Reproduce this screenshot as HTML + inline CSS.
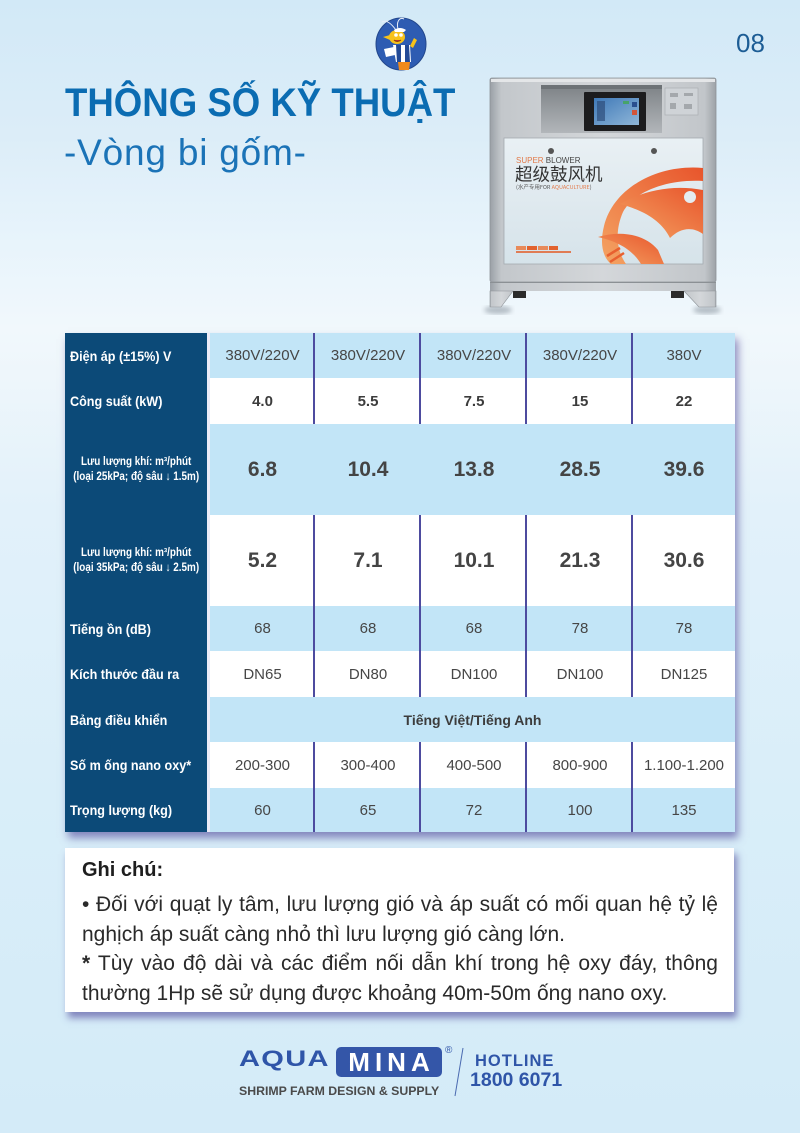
<!DOCTYPE html>
<html>
<head>
<meta charset="utf-8">
<style>
*{box-sizing:border-box}
body{margin:0;width:800px;height:1133px;position:relative;overflow:hidden;
background:linear-gradient(180deg,#d2e9f7 0%,#dcedf8 12%,#e6f3fb 20%,#f1f8fc 29%,#eef6fb 33%,#e2f1fa 45%,#d9eef9 70%,#d4ebf8 100%);
font-family:"Liberation Sans","Noto Sans CJK SC",sans-serif;}
.abs{position:absolute;white-space:nowrap}
.tbl{position:absolute;left:65px;top:333px;width:670px;height:499px;background:#ecebf7;box-shadow:3px 6px 8px rgba(60,50,140,.55)}
.dark{position:absolute;left:65px;top:333px;width:142px;height:499px;background:#0c4a78}
.row{position:absolute;left:210px;width:525px;display:flex;align-items:center;color:#464646;font-size:15px}
.c{flex:none;text-align:center}
.b{font-weight:bold;color:#3c3c3c}
.big{font-weight:bold;font-size:21px;color:#444}
.lr{position:absolute;left:70px;width:137px;display:flex;align-items:center;color:#fff;font-weight:bold;font-size:14px;white-space:nowrap}
.lr span{display:inline-block;transform:scaleX(.9);transform-origin:left center}
.lr2{position:absolute;left:65px;width:142px;display:flex;align-items:center;justify-content:center;color:#fff;font-weight:bold;font-size:11.5px;line-height:14.5px;text-align:center;white-space:nowrap}
.lr2 span{display:inline-block;transform:scaleX(.86);transform-origin:center}
.dv{position:absolute;width:2px;background:#4d4b9f;border-right:0}
.note{position:absolute;left:65px;top:848px;width:669px;height:164px;background:#fff;box-shadow:3px 6px 7px rgba(60,50,140,.55)}
.nl{position:absolute;left:82px;width:636px;font-size:21px;line-height:29.5px;color:#2a2a2a;white-space:nowrap}
.j{text-align:justify;text-align-last:justify;white-space:normal}
</style>
</head>
<body>

<svg class="abs" style="left:0;top:0" width="800" height="1133" viewBox="0 0 800 1133">
<defs>
<linearGradient id="gb" x1="0" x2="1" y1="0" y2="0">
<stop offset="0" stop-color="#9aa0a6"/><stop offset=".05" stop-color="#c3c7cb"/><stop offset=".5" stop-color="#d4d7da"/><stop offset=".95" stop-color="#c2c6ca"/><stop offset="1" stop-color="#9da2a7"/>
</linearGradient>
<linearGradient id="gp" x1="0" x2="0" y1="0" y2="1">
<stop offset="0" stop-color="#e9f0f4"/><stop offset="1" stop-color="#d6e3ea"/>
</linearGradient>
<linearGradient id="gr" x1="0" x2="0" y1="0" y2="1">
<stop offset="0" stop-color="#7d8286"/><stop offset="1" stop-color="#b2b6ba"/>
</linearGradient>
<linearGradient id="go" x1="1" x2="0" y1="0" y2="1">
<stop offset="0" stop-color="#e8552c"/><stop offset="1" stop-color="#f4a463"/>
</linearGradient>
<linearGradient id="gs" x1="0" x2="1" y1="0" y2="1">
<stop offset="0" stop-color="#3f79b8"/><stop offset="1" stop-color="#8fb6d8"/>
</linearGradient>
<filter id="bl"><feGaussianBlur stdDeviation="2.5"/></filter>
</defs>

<!-- logo -->
<ellipse cx="401" cy="44" rx="25" ry="26" fill="#2e5cb2" stroke="#23478c" stroke-width="1"/>
<path d="M396 30 C390 22 386 20 382 22 M398 29 C396 21 400 17 404 19" stroke="#e8eef8" stroke-width="1" fill="none"/>
<path d="M398 62 L410 62 L409 70 L399 70 Z" fill="#f08a1c"/>
<path d="M393 45 L410 45 L411 62 L396 62 Z" fill="#ffffff"/>
<path d="M396 45 L401 45 L401 62 L397 62 Z" fill="#234a96"/>
<path d="M405 45 L409 45 L410 62 L405 62 Z" fill="#234a96"/>
<ellipse cx="397" cy="37" rx="8" ry="7" fill="#f7c21a"/>
<path d="M390 35 L383 37 L390 40 Z" fill="#f7c21a"/>
<path d="M394 30 Q400 26 406 30 L404 32 L395 32 Z" fill="#ffffff"/>
<circle cx="396" cy="35" r="1.8" fill="#fff"/><circle cx="401" cy="35" r="1.8" fill="#fff"/>
<path d="M394 40 Q397 43 401 40" stroke="#8a3b12" stroke-width="1" fill="#c0392b"/>
<path d="M410 46 L414 38 L417 40 L413 48 Z" fill="#f7c21a"/>
<path d="M384 49 L394 47 L395 55 L386 57 Z" fill="#ffffff"/>

<!-- machine shadows -->
<ellipse cx="498" cy="310" rx="14" ry="4" fill="#6d7884" opacity=".45" filter="url(#bl)"/>
<ellipse cx="707" cy="310" rx="14" ry="4" fill="#6d7884" opacity=".45" filter="url(#bl)"/>
<!-- machine body -->
<rect x="490" y="78" width="226" height="204" fill="url(#gb)" stroke="#8d9297" stroke-width=".8" rx="2"/>
<rect x="491" y="79" width="224" height="3" fill="#e4e6e8"/>
<rect x="541" y="85" width="121" height="48" fill="url(#gr)"/>
<rect x="541" y="85" width="121" height="4" fill="#6d7276"/>
<rect x="584" y="92" width="62" height="39" fill="#1c1c1e" rx="1"/>
<rect x="594" y="98" width="45" height="27" fill="url(#gs)"/>
<rect x="597" y="101" width="8" height="20" fill="#2d4d7a" opacity=".7"/>
<rect x="623" y="101" width="6" height="3" fill="#47a36a"/>
<rect x="632" y="102" width="5" height="5" fill="#2a4f8f"/>
<rect x="632" y="110" width="5" height="5" fill="#d2553a"/>
<rect x="665" y="88" width="33" height="27" fill="#cfd3d7" stroke="#aeb2b6" stroke-width=".8"/>
<rect x="670" y="93" width="8" height="4" fill="#a4a8ac"/><rect x="684" y="93" width="9" height="3" fill="#a4a8ac"/>
<rect x="670" y="103" width="6" height="6" fill="#a4a8ac"/><rect x="684" y="104" width="8" height="5" fill="#a4a8ac"/>
<!-- panel -->
<rect x="504" y="138" width="199" height="126" fill="url(#gp)" stroke="#a4aab0" stroke-width=".8"/>
<circle cx="551" cy="151" r="3" fill="#555"/><circle cx="654" cy="151" r="3" fill="#555"/>
<text x="516" y="163" font-size="8" fill="#e27a4a" font-family="Liberation Sans, sans-serif">SUPER <tspan fill="#444">BLOWER</tspan></text>
<text x="515" y="180.5" font-size="17.5" fill="#333" font-family="Noto Sans CJK SC, sans-serif">超级鼓风机</text>
<text x="516" y="189" font-size="5.5" fill="#555" font-family="Noto Sans CJK SC, sans-serif">(水产专用FOR <tspan fill="#e27a4a">AQUACULTURE</tspan>)</text>
<rect x="516" y="246" width="10" height="4" fill="#e88a5a"/><rect x="527" y="246" width="10" height="4" fill="#e2622e"/><rect x="538" y="246" width="10" height="4" fill="#e88a5a"/><rect x="549" y="246" width="9" height="4" fill="#e2622e"/>
<rect x="516" y="251" width="55" height="2" fill="#e2622e" opacity=".8"/>
<!-- orange swirl -->
<path d="M703 168 C660 164 614 186 604 226 C599 246 604 258 611 264 L626 264 C616 250 615 230 623 212 C635 190 670 179 703 181 Z" fill="url(#go)"/>
<path d="M620 204 C642 191 672 184 703 190 L703 234 C692 226 680 228 670 238 C662 222 646 211 620 204 Z" fill="url(#go)"/>
<circle cx="690" cy="197" r="6" fill="#e4ecf1"/>
<path d="M598 237 C620 230 645 234 658 250 L664 264 L641 264 C633 251 620 242 598 237 Z" fill="url(#go)"/>
<path d="M607 256 L620 248 M610 262 L624 253" stroke="#e8602f" stroke-width="2.5"/>
<!-- base -->
<rect x="490" y="282" width="226" height="1.2" fill="#8b9094"/>
<rect x="490" y="283" width="226" height="8" fill="url(#gb)"/>
<rect x="513" y="291" width="13" height="7" fill="#2b2b2b"/>
<rect x="671" y="291" width="13" height="7" fill="#2b2b2b"/>
<polygon points="490,291 513,291 501,307 490,307" fill="url(#gb)" stroke="#8d9297" stroke-width=".6"/>
<polygon points="684,291 716,291 716,307 699,307" fill="url(#gb)" stroke="#8d9297" stroke-width=".6"/>

<!-- footer slash -->
<line x1="463" y1="1048" x2="455" y2="1096" stroke="#4a6ab0" stroke-width="1"/>
</svg>

<!-- header text -->
<div class="abs" style="left:736px;top:30px;font-size:26px;line-height:26px;color:#1d5d95">08</div>
<div class="abs" style="left:65px;top:83px;font-size:40px;line-height:40px;font-weight:bold;color:#0b6cb2;transform:scaleX(.915);transform-origin:left top">THÔNG SỐ KỸ THUẬT</div>
<div class="abs" style="left:64px;top:134px;font-size:37px;line-height:37px;letter-spacing:0.8px;color:#1b73b7">-Vòng bi gốm-</div>

<!-- table -->
<div class="tbl"></div>
<div class="dark"></div>

<div class="row" style="top:333px;height:45px;background:#c2e5f7">
<div class="c" style="width:105px">380V/220V</div><div class="c" style="width:106px">380V/220V</div><div class="c" style="width:106px">380V/220V</div><div class="c" style="width:106px">380V/220V</div><div class="c" style="width:102px">380V</div>
</div>
<div class="row b" style="top:378px;height:46px;background:#fff">
<div class="c" style="width:105px">4.0</div><div class="c" style="width:106px">5.5</div><div class="c" style="width:106px">7.5</div><div class="c" style="width:106px">15</div><div class="c" style="width:102px">22</div>
</div>
<div class="row big" style="top:424px;height:91px;background:#c2e5f7">
<div class="c" style="width:105px">6.8</div><div class="c" style="width:106px">10.4</div><div class="c" style="width:106px">13.8</div><div class="c" style="width:106px">28.5</div><div class="c" style="width:102px">39.6</div>
</div>
<div class="row big" style="top:515px;height:91px;background:#fff">
<div class="c" style="width:105px">5.2</div><div class="c" style="width:106px">7.1</div><div class="c" style="width:106px">10.1</div><div class="c" style="width:106px">21.3</div><div class="c" style="width:102px">30.6</div>
</div>
<div class="row" style="top:606px;height:45px;background:#c2e5f7">
<div class="c" style="width:105px">68</div><div class="c" style="width:106px">68</div><div class="c" style="width:106px">68</div><div class="c" style="width:106px">78</div><div class="c" style="width:102px">78</div>
</div>
<div class="row" style="top:651px;height:46px;background:#fff">
<div class="c" style="width:105px">DN65</div><div class="c" style="width:106px">DN80</div><div class="c" style="width:106px">DN100</div><div class="c" style="width:106px">DN100</div><div class="c" style="width:102px">DN125</div>
</div>
<div class="row" style="top:697px;height:45px;background:#c2e5f7;justify-content:center">
<div class="c b" style="font-size:14px">Tiếng Việt/Tiếng Anh</div>
</div>
<div class="row" style="top:742px;height:46px;background:#fff">
<div class="c" style="width:105px">200-300</div><div class="c" style="width:106px">300-400</div><div class="c" style="width:106px">400-500</div><div class="c" style="width:106px">800-900</div><div class="c" style="width:102px">1.100-1.200</div>
</div>
<div class="row" style="top:788px;height:44px;background:#c2e5f7">
<div class="c" style="width:105px">60</div><div class="c" style="width:106px">65</div><div class="c" style="width:106px">72</div><div class="c" style="width:106px">100</div><div class="c" style="width:102px">135</div>
</div>

<!-- dividers -->
<div class="dv" style="left:313px;top:333px;height:91px"></div>
<div class="dv" style="left:419px;top:333px;height:91px"></div>
<div class="dv" style="left:525px;top:333px;height:91px"></div>
<div class="dv" style="left:631px;top:333px;height:91px"></div>
<div class="dv" style="left:313px;top:515px;height:182px"></div>
<div class="dv" style="left:419px;top:515px;height:182px"></div>
<div class="dv" style="left:525px;top:515px;height:182px"></div>
<div class="dv" style="left:631px;top:515px;height:182px"></div>
<div class="dv" style="left:313px;top:742px;height:90px"></div>
<div class="dv" style="left:419px;top:742px;height:90px"></div>
<div class="dv" style="left:525px;top:742px;height:90px"></div>
<div class="dv" style="left:631px;top:742px;height:90px"></div>

<!-- row labels -->
<div class="lr" style="top:333px;height:45px"><span>Điện áp (±15%) V</span></div>
<div class="lr" style="top:378px;height:46px"><span>Công suất (kW)</span></div>
<div class="lr2" style="top:424px;height:91px"><span>Lưu lượng khí: m³/phút<br>(loại 25kPa; độ sâu ↓ 1.5m)</span></div>
<div class="lr2" style="top:515px;height:91px"><span>Lưu lượng khí: m³/phút<br>(loại 35kPa; độ sâu ↓ 2.5m)</span></div>
<div class="lr" style="top:606px;height:45px"><span>Tiếng ồn (dB)</span></div>
<div class="lr" style="top:651px;height:46px"><span>Kích thước đầu ra</span></div>
<div class="lr" style="top:697px;height:45px"><span>Bảng điều khiển</span></div>
<div class="lr" style="top:742px;height:46px"><span>Số m ống nano oxy*</span></div>
<div class="lr" style="top:788px;height:44px"><span>Trọng lượng (kg)</span></div>

<!-- notes -->
<div class="note"></div>
<div class="abs" style="left:82px;top:858px;font-size:20px;line-height:24px;font-weight:bold;color:#1e1e1e">Ghi chú:</div>
<div class="nl j" style="top:890px">• Đối với quạt ly tâm, lưu lượng gió và áp suất có mối quan hệ tỷ lệ</div>
<div class="nl" style="top:919.5px">nghịch áp suất càng nhỏ thì lưu lượng gió càng lớn.</div>
<div class="nl j" style="top:949px"><b>*</b> Tùy vào độ dài và các điểm nối dẫn khí trong hệ oxy đáy, thông</div>
<div class="nl" style="top:978.5px">thường 1Hp sẽ sử dụng được khoảng 40m-50m ống nano oxy.</div>

<!-- footer -->
<div class="abs" style="left:239px;top:1048px;font-size:22px;line-height:22px;font-weight:bold;color:#2f55a8;letter-spacing:1px;transform:scaleX(1.32);transform-origin:left top">AQUA</div>
<div class="abs" style="left:336px;top:1047px;width:106px;height:30px;background:#3456a8;border-radius:5px"></div>
<div class="abs" style="left:336px;top:1049px;width:106px;text-align:center;font-size:26px;line-height:26px;font-weight:bold;color:#fff;letter-spacing:5px;padding-left:5px">MINA</div>
<div class="abs" style="left:445px;top:1046px;font-size:10px;line-height:10px;color:#2f55a8">®</div>
<div class="abs" style="left:239px;top:1085px;font-size:12.3px;line-height:12.3px;font-weight:bold;color:#4a4a4a">SHRIMP FARM DESIGN &amp; SUPPLY</div>
<div class="abs" style="left:475px;top:1053px;font-size:16.5px;line-height:16.5px;font-weight:bold;color:#2f55a8;letter-spacing:1px">HOTLINE</div>
<div class="abs" style="left:470px;top:1071px;font-size:19.5px;line-height:19.5px;font-weight:bold;color:#2f55a8">1800 6071</div>

</body>
</html>
